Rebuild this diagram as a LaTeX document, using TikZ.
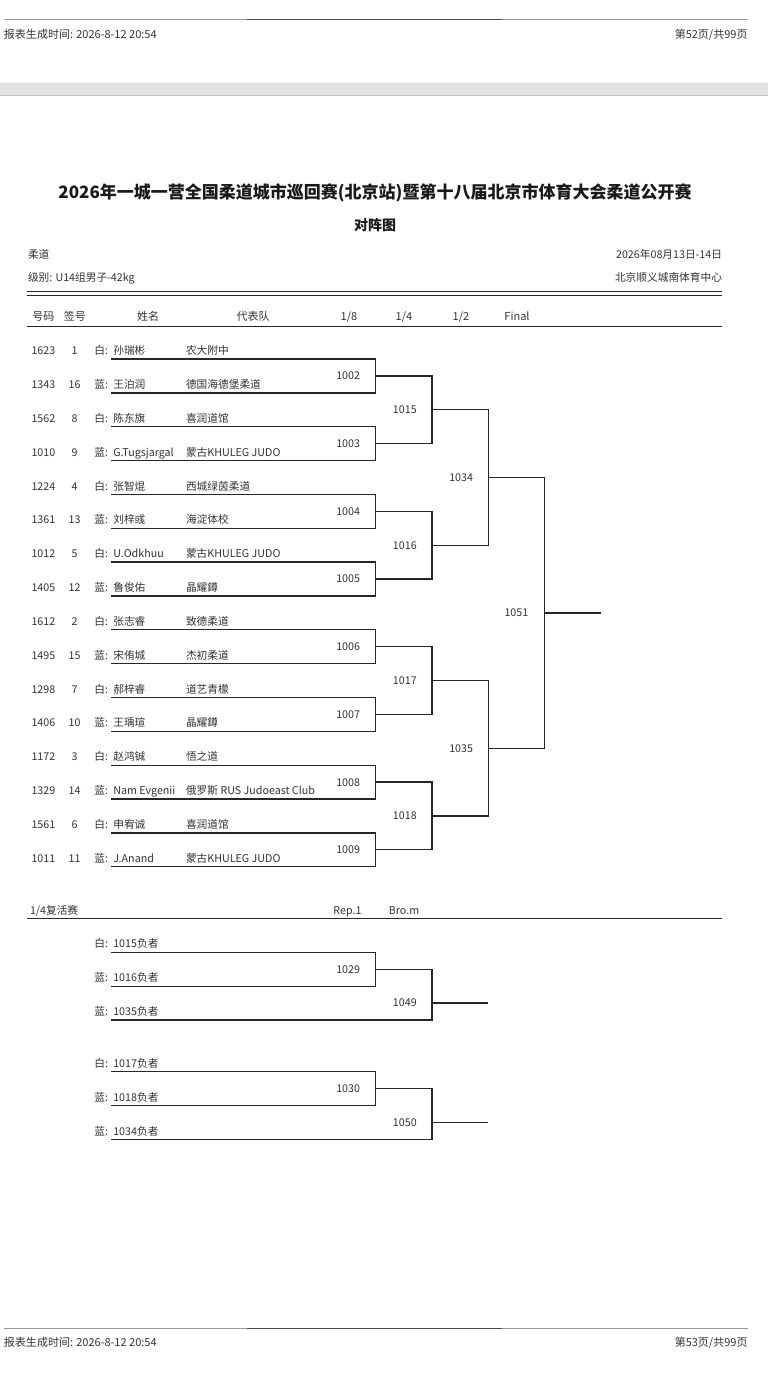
\documentclass[tikz,border=0pt]{standalone}
\usepackage{fontspec}
\setmainfont{Noto Sans CJK SC}
\usetikzlibrary{calc}
\begin{document}
\begin{tikzpicture}[x=1pt,y=-1pt,
  every node/.style={inner sep=0pt,outer sep=0pt},
  txt/.style={text=black!80,font=\fontsize{10.7}{12}\selectfont},
  hdr/.style={text=black!80,font=\fontsize{11}{13}\selectfont},
  lab/.style={text=black!80,font=\fontsize{10.7}{12}\selectfont,anchor=base east},
  br/.style={draw=black!85,line width=1.3pt},
  rule/.style={draw=black!85,line width=1.2pt},
  pagerule/.style={draw=black!40,line width=0.9pt},
  pagerulemid/.style={draw=black!70,line width=0.9pt}]
\useasboundingbox (0,0) rectangle (768,1375);
\fill[white] (0,0) rectangle (768,1375);
% column x of bracket levels
\coordinate (X1) at (375.7,0);
\coordinate (X2) at (432,0);
\coordinate (X3) at (488.3,0);
\coordinate (X4) at (544.3,0);
\coordinate (X5) at (601,0);
% ---------- page header ----------
\coordinate (hl1) at (4,19); \coordinate (hl2) at (747.5,19);
\coordinate (hm1) at (247,19); \coordinate (hm2) at (502,19);
\draw[pagerule] (hl1) -- (hl2);
\draw[pagerulemid] (hm1) -- (hm2);
\node[hdr,anchor=base west] (gentime) at (4,38.4) {报表生成时间: 2026-8-12 20:54};
\node[hdr,anchor=base east] (page1) at (747.5,38.4) {第52页/共99页};
% grey band
\fill[black!11] (0,82) rectangle (768,96.5);
\draw[black!4,line width=0.8pt] (0,82.4) -- (768,82.4);
\draw[black!24,line width=1.4pt] (0,95.6) -- (768,95.6);
% ---------- title ----------
\node[anchor=base,font=\fontsize{17}{20}\selectfont\bfseries,text=black!90] (title) at (375,199) {2026年一城一营全国柔道城市巡回赛(北京站)暨第十八届北京市体育大会柔道公开赛};
\node[anchor=base,font=\fontsize{14}{16}\selectfont\bfseries,text=black!90] (sub) at (375,230.2) {对阵图};
\node[txt,anchor=base west] (sport) at (28,258.9) {柔道};
\node[txt,anchor=base west] (cat) at (28,281.2) {级别: U14组男子-42kg};
\node[txt,anchor=base east] (date) at (722,258.9) {2026年08月13日-14日};
\node[txt,anchor=base east] (venue) at (722,281.2) {北京顺义城南体育中心};
\coordinate (d1a) at (26.7,291.8); \coordinate (d1b) at (722.3,291.8);
\coordinate (d2a) at (26.7,295.4); \coordinate (d2b) at (722.3,295.4);
\draw[rule,line width=1.1pt] (d1a) -- (d1b);
\draw[rule,line width=1.1pt] (d2a) -- (d2b);
\node[hdr,anchor=base] (hno) at (43.4,320.6) {号码};
\node[hdr,anchor=base] (hsd) at (74.8,320.6) {签号};
\node[hdr,anchor=base] (hnm) at (148,320.6) {姓名};
\node[hdr,anchor=base] (htm) at (253,320.6) {代表队};
\node[hdr,anchor=base] (h8) at (349,320.6) {1/8};
\node[hdr,anchor=base] (h4) at (404,320.6) {1/4};
\node[hdr,anchor=base] (h2) at (461,320.6) {1/2};
\node[hdr,anchor=base] (hf) at (517,320.6) {Final};
\coordinate (u1) at (26.7,326.7); \coordinate (u2) at (722.3,326.7);
\draw[rule] (u1) -- (u2);
% ---------- main draw rows ----------
\foreach \i/\pn/\sd/\cl/\nm/\tm in {
 1/1623/1/白/孙瑞彬/农大附中,
 2/1343/16/蓝/王泊润/德国海德堡柔道,
 3/1562/8/白/陈东旗/喜润道馆,
 4/1010/9/蓝/G.Tugsjargal/蒙古KHULEG JUDO,
 5/1224/4/白/张智焜/西城绿茵柔道,
 6/1361/13/蓝/刘梓彧/海淀体校,
 7/1012/5/白/U.Odkhuu/蒙古KHULEG JUDO,
 8/1405/12/蓝/鲁俊佑/晶耀鐏,
 9/1612/2/白/张志睿/致德柔道,
 10/1495/15/蓝/宋侑城/杰初柔道,
 11/1298/7/白/郝梓睿/道艺青檬,
 12/1406/10/蓝/王瑀瑄/晶耀鐏,
 13/1172/3/白/赵鸿铖/悟之道,
 14/1329/14/蓝/Nam Evgenii/俄罗斯 RUS Judoeast Club,
 15/1561/6/白/申宥诚/喜润道馆,
 16/1011/11/蓝/J.Anand/蒙古KHULEG JUDO}
{
 \pgfmathsetmacro\ly{359+33.85*(\i-1)}
 \pgfmathsetmacro\by{\ly-4.4}
 \node[txt,anchor=base] (no\i) at (43.4,\by) {\pn};
 \node[txt,anchor=base] (sd\i) at (74.5,\by) {\sd};
 \node[txt,anchor=base west] (cl\i) at (94.3,\by) {\cl:};
 \node[txt,anchor=base west] (nm\i) at (113.3,\by) {\nm};
 \node[txt,anchor=base west] (tm\i) at (186,\by) {\tm};
 \coordinate (rs\i) at (111,\ly);
 \coordinate (re\i) at (375.7,\ly);
}
% round of 16
\foreach \p/\m in {1/1002,2/1003,3/1004,4/1005,5/1006,6/1007,7/1008,8/1009}{
 \pgfmathtruncatemacro\ra{2*\p-1}
 \pgfmathtruncatemacro\rb{2*\p}
 \draw[br] (rs\ra) -- (re\ra) -- (re\rb) -- (rs\rb);
 \coordinate (a\p) at ($(re\ra)!0.5!(re\rb)$);
 \node[lab] (m\m) at ($(a\p)+(-15.7,3.9)$) {\m};
}
% quarter finals
\foreach \k/\m in {1/1015,2/1016,3/1017,4/1018}{
 \pgfmathtruncatemacro\pa{2*\k-1}
 \pgfmathtruncatemacro\pb{2*\k}
 \coordinate (ta\k) at (a\pa -| X2);
 \coordinate (tb\k) at (a\pb -| X2);
 \draw[br] (a\pa) -- (ta\k) -- (tb\k) -- (a\pb);
 \coordinate (b\k) at ($(ta\k)!0.5!(tb\k)$);
 \node[lab] (m\m) at ($(b\k)+(-15.3,3.9)$) {\m};
}
% semi finals
\foreach \k/\m in {1/1034,2/1035}{
 \pgfmathtruncatemacro\pa{2*\k-1}
 \pgfmathtruncatemacro\pb{2*\k}
 \coordinate (sa\k) at (b\pa -| X3);
 \coordinate (sb\k) at (b\pb -| X3);
 \draw[br] (b\pa) -- (sa\k) -- (sb\k) -- (b\pb);
 \coordinate (c\k) at ($(sa\k)!0.5!(sb\k)$);
 \node[lab] (m\m) at ($(c\k)+(-15.3,3.9)$) {\m};
}
% final
\coordinate (fa) at (c1 -| X4);
\coordinate (fb) at (c2 -| X4);
\draw[br] (c1) -- (fa) -- (fb) -- (c2);
\coordinate (dd) at ($(fa)!0.5!(fb)$);
\node[lab] (m1051) at ($(dd)+(-16,3.9)$) {1051};
\coordinate (dw) at (dd -| X5);
\draw[br] (dd) -- (dw);
% ---------- repechage ----------
\node[txt,anchor=base west] (reptitle) at (30,914.6) {1/4复活赛};
\node[txt,anchor=base] (rep1) at (347.5,914.6) {Rep.1};
\node[txt,anchor=base] (brom) at (404,914.6) {Bro.m};
\coordinate (v1) at (26.7,918.3); \coordinate (v2) at (722.3,918.3);
\draw[rule] (v1) -- (v2);
\foreach \g/\base/\ta/\tb/\tc/\ma/\mb in {1/952.3/1015/1016/1035/1029/1049,2/1071.7/1017/1018/1034/1030/1050}{
 \pgfmathsetmacro\ya{\base}
 \pgfmathsetmacro\yb{\base+33.85}
 \pgfmathsetmacro\yc{\base+67.7}
 \pgfmathsetmacro\yo{\base+50.775}
 \node[txt,anchor=base west] (rca\g) at (94.3,\ya-4.4) {白:};
 \node[txt,anchor=base west] (rna\g) at (113.3,\ya-4.4) {\ta 负者};
 \node[txt,anchor=base west] (rcb\g) at (94.3,\yb-4.4) {蓝:};
 \node[txt,anchor=base west] (rnb\g) at (113.3,\yb-4.4) {\tb 负者};
 \node[txt,anchor=base west] (rcc\g) at (94.3,\yc-4.4) {蓝:};
 \node[txt,anchor=base west] (rnc\g) at (113.3,\yc-4.4) {\tc 负者};
 \coordinate (qsa\g) at (111,\ya); \coordinate (qea\g) at (375.7,\ya);
 \coordinate (qsb\g) at (111,\yb); \coordinate (qeb\g) at (375.7,\yb);
 \coordinate (qsc\g) at (111,\yc); \coordinate (qec\g) at (432,\yc);
 \draw[br] (qsa\g) -- (qea\g) -- (qeb\g) -- (qsb\g);
 \coordinate (qm\g) at ($(qea\g)!0.5!(qeb\g)$);
 \node[lab] (m\ma) at ($(qm\g)+(-15.7,3.9)$) {\ma};
 \coordinate (qv\g) at (qm\g -| X2);
 \draw[br] (qm\g) -- (qv\g) -- (qec\g) -- (qsc\g);
 \coordinate (qo\g) at (432,\yo);
 \coordinate (qw\g) at (qo\g -| X3);
 \node[lab] (m\mb) at ($(qo\g)+(-15.3,3.9)$) {\mb};
 \draw[br] (qo\g) -- (qw\g);
}
% ---------- page footer ----------
\coordinate (fl1) at (4,1328.3); \coordinate (fl2) at (747.5,1328.3);
\coordinate (fm1) at (247,1328.3); \coordinate (fm2) at (502,1328.3);
\draw[pagerule] (fl1) -- (fl2);
\draw[pagerulemid] (fm1) -- (fm2);
\node[hdr,anchor=base west] (gentime2) at (4,1346.8) {报表生成时间: 2026-8-12 20:54};
\node[hdr,anchor=base east] (page2) at (747.5,1346.8) {第53页/共99页};
\end{tikzpicture}
\end{document}
